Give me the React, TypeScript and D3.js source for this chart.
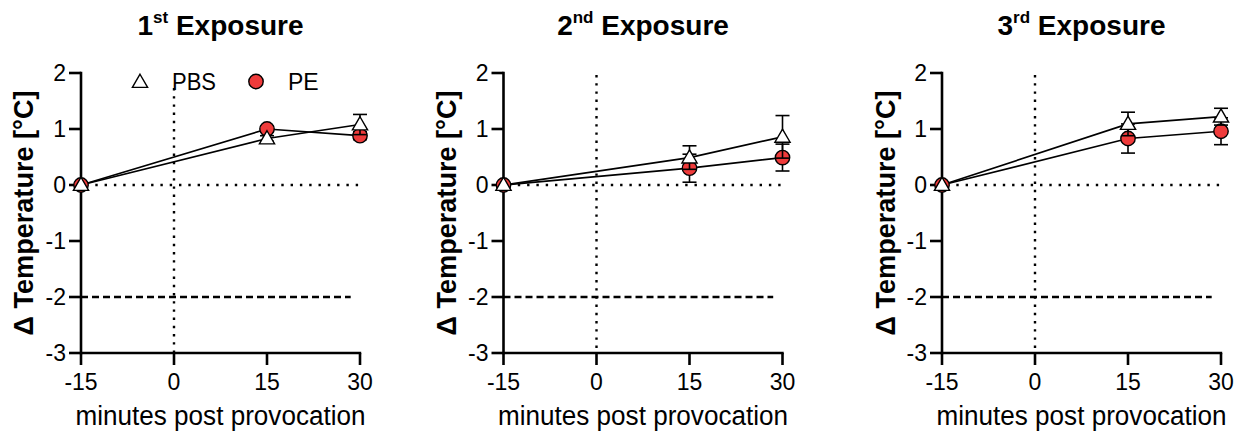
import React from 'react';
import * as d3 from 'd3';

// ---- data ----
const times = [-15, 15, 30];
const xTicks = [-15, 0, 15, 30];
const yTicks = [-3, -2, -1, 0, 1, 2];
const titleNums = ['1', '2', '3'];
const titleSups = ['st', 'nd', 'rd'];
const pbsMean = [
  [0, 0.83, 1.08],
  [0, 0.49, 0.86],
  [0, 1.09, 1.22],
];
const pbsSem = [
  [0, 0.05, 0.18],
  [0, 0.21, 0.38],
  [0, 0.21, 0.15],
];
const peMean = [
  [0, 1.0, 0.88],
  [0, 0.3, 0.49],
  [0, 0.83, 0.96],
];
const peSem = [
  [0, 0.05, 0.07],
  [0, 0.25, 0.24],
  [0, 0.26, 0.24],
];
const seriesNames = ['PBS', 'PE'];

// ---- layout ----
const W = 1241;
const H = 437;
const axisXs = [81, 503.5, 942];
const plotW = 279;
const yTop = 73;
const yBottom = 353;
const RED = '#ef3b3b';
const FONT = 'Arial, "Liberation Sans", Helvetica, sans-serif';

const triPath = d3.symbol().type(d3.symbolTriangle).size(100)() as string;

function ErrorBar({ x, y, sem, ys }: { x: number; y: number; sem: number; ys: d3.ScaleLinear<number, number> }) {
  if (sem <= 0) return null;
  const top = ys(y + sem);
  const bot = ys(y - sem);
  const cw = 7;
  return (
    <g stroke="#000" strokeWidth={1.6}>
      <line x1={x} x2={x} y1={top} y2={bot} />
      <line x1={x - cw} x2={x + cw} y1={top} y2={top} />
      <line x1={x - cw} x2={x + cw} y1={bot} y2={bot} />
    </g>
  );
}

function Panel({ idx }: { idx: number }) {
  const x0 = axisXs[idx];
  const xs = d3.scaleLinear().domain([-15, 30]).range([x0, x0 + plotW]);
  const ys = d3.scaleLinear().domain([-3, 2]).range([yBottom, yTop]);
  const line = d3
    .line<number>()
    .x((_, i) => xs(times[i]))
    .y((d) => ys(d));
  const cx = x0 + plotW / 2;
  const cy = (yTop + yBottom) / 2;
  const labelX = [23, 446.5, 885.5][idx];
  const vTop = idx === 0 ? 88 : yTop + 2;
  return (
    <g>
      {/* title */}
      <text x={cx} y={35} textAnchor="middle" fontFamily={FONT} fontWeight="bold" fontSize={28}>
        {titleNums[idx]}
        <tspan fontSize={17} dy={-12}>{titleSups[idx]}</tspan>
        <tspan dy={12}>{' Exposure'}</tspan>
      </text>
      {/* reference lines */}
      <line x1={xs(0)} x2={xs(0)} y1={vTop} y2={yBottom} stroke="#000" strokeWidth={2.4} strokeDasharray="2.4,5.8" />
      <line x1={x0 + 5} x2={xs(30)} y1={ys(0)} y2={ys(0)} stroke="#000" strokeWidth={2.4} strokeDasharray="2.4,6.9" />
      <line x1={x0} x2={xs(28.5)} y1={ys(-2)} y2={ys(-2)} stroke="#000" strokeWidth={2.4} strokeDasharray="7,4" />
      {/* axes */}
      <line x1={x0} x2={x0} y1={yTop - 1.2} y2={yBottom + 1.2} stroke="#000" strokeWidth={2.6} />
      <line x1={x0} x2={xs(30) + 1.2} y1={yBottom} y2={yBottom} stroke="#000" strokeWidth={2.6} />
      {yTicks.map((t) => (
        <g key={'y' + t}>
          <line x1={x0 - 12} x2={x0} y1={ys(t)} y2={ys(t)} stroke="#000" strokeWidth={2.6} />
          <text x={x0 - 15} y={ys(t)} dy="0.36em" textAnchor="end" fontFamily={FONT} fontSize={23}>
            {t}
          </text>
        </g>
      ))}
      {xTicks.map((t) => (
        <g key={'x' + t}>
          <line x1={xs(t)} x2={xs(t)} y1={yBottom} y2={yBottom + 12} stroke="#000" strokeWidth={2.6} />
          <text x={xs(t)} y={390} textAnchor="middle" fontFamily={FONT} fontSize={23}>
            {t}
          </text>
        </g>
      ))}
      <text
        x={cx}
        y={425}
        textAnchor="middle"
        fontFamily={FONT}
        fontSize={27}
        textLength={290}
        lengthAdjust="spacingAndGlyphs"
      >
        minutes post provocation
      </text>
      <text
        transform={`translate(${labelX},${cy}) rotate(-90)`}
        textAnchor="middle"
        dy="0.35em"
        fontFamily={FONT}
        fontWeight="bold"
        fontSize={28}
        textLength={245}
        lengthAdjust="spacingAndGlyphs"
      >
        Δ Temperature [°C]
      </text>
      {/* series lines */}
      <path d={line(peMean[idx]) as string} fill="none" stroke="#000" strokeWidth={1.7} />
      <path d={line(pbsMean[idx]) as string} fill="none" stroke="#000" strokeWidth={1.7} />
      {/* PE errors + markers */}
      {peMean[idx].map((v, i) => (
        <ErrorBar key={'pe' + i} x={xs(times[i])} y={v} sem={peSem[idx][i]} ys={ys} />
      ))}
      {peMean[idx].map((v, i) => (
        <circle key={'pec' + i} cx={xs(times[i])} cy={ys(v)} r={7.2} fill={RED} stroke="#000" strokeWidth={1.4} />
      ))}
      {/* PBS errors + markers */}
      {pbsMean[idx].map((v, i) => (
        <ErrorBar key={'pbs' + i} x={xs(times[i])} y={v} sem={pbsSem[idx][i]} ys={ys} />
      ))}
      {pbsMean[idx].map((v, i) => (
        <path
          key={'pbst' + i}
          d={triPath}
          transform={`translate(${xs(times[i])},${ys(v) + 1})`}
          fill="#fff"
          stroke="#000"
          strokeWidth={1.4}
        />
      ))}
      {/* legend only in first panel */}
      {idx === 0 && (
        <g>
          <path d={triPath} transform="translate(140,83)" fill="#fff" stroke="#000" strokeWidth={1.4} />
          <text x={172} y={89.5} fontFamily={FONT} fontSize={23} textLength={44} lengthAdjust="spacingAndGlyphs">
            {seriesNames[0]}
          </text>
          <circle cx={256} cy={81.5} r={7.2} fill={RED} stroke="#000" strokeWidth={1.4} />
          <text x={288} y={89.5} fontFamily={FONT} fontSize={23}>
            {seriesNames[1]}
          </text>
        </g>
      )}
    </g>
  );
}

export default function App() {
  return (
    <svg
      width={W}
      height={H}
      viewBox={`0 0 ${W} ${H}`}
      style={{ position: 'absolute', left: 0, top: 0, background: '#fff' }}
    >
      <rect width={W} height={H} fill="#fff" />
      {[0, 1, 2].map((i) => (
        <Panel key={i} idx={i} />
      ))}
    </svg>
  );
}
